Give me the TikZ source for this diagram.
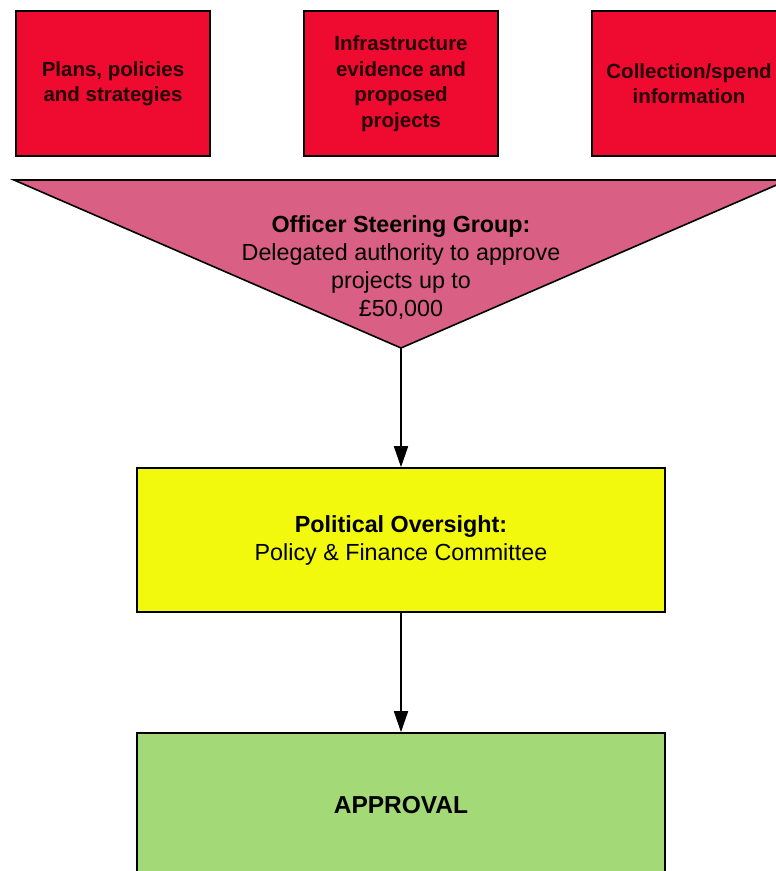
\documentclass[tikz,border=0pt]{standalone}
\usepackage{fontspec}
\setmainfont{Liberation Sans}
\usetikzlibrary{arrows.meta}

\definecolor{inputred}{HTML}{EF0A2F}
\definecolor{officerpink}{HTML}{D95F85}
\definecolor{oversightyellow}{HTML}{F2F90D}
\definecolor{approvalgreen}{HTML}{A3D977}

\begin{document}
\begin{tikzpicture}[
    x=1pt, y=-1pt,
    line width=1.6pt,
    input/.style = {
      draw, fill=inputred, align=center,
      minimum width=194pt, minimum height=145pt,
      text=black!85!inputred,
      font=\fontsize{20.5}{25.5}\selectfont\bfseries
    },
    stage/.style = {
      draw, align=center,
      minimum width=528pt, minimum height=144pt,
      font=\fontsize{23.3}{28}\selectfont
    },
    flow/.style = {-{Triangle[length=21pt,width=14pt]}}
  ]
  \useasboundingbox (0,0) rectangle (776,871);
  \clip (0,0) rectangle (776,871);

  % inputs
  \node (plans) [input] at (113,83.5) {Plans, policies\\and strategies};
  \node (infra) [input] at (401,83.5) {Infrastructure\\evidence and\\proposed\\projects};
  \node (spend) [input] at (689,83.5) {Collection/spend\\information};

  % officer steering group
  \coordinate (tl) at (14,180);
  \coordinate (tr) at (788,180);
  \coordinate (apex) at (401,348);
  \filldraw [fill=officerpink] (tl) -- (tr) -- (apex) -- cycle;
  \node (OSG) [align=center, font=\fontsize{23.3}{28}\selectfont] at (401,268)
    {\textbf{Officer Steering Group:}\\Delegated authority to approve\\projects up to\\£50,000};

  \node (PO) [stage, fill=oversightyellow] at (401,540)
    {\textbf{Political Oversight:}\\Policy \& Finance Committee};
  \node (AP) [stage, fill=approvalgreen, font=\fontsize{24.5}{28}\selectfont\bfseries] at (401,805)
    {APPROVAL};

  \draw [flow] (apex) -- (PO.north);
  \draw [flow] (PO.south) -- (AP.north);
\end{tikzpicture}
\end{document}
